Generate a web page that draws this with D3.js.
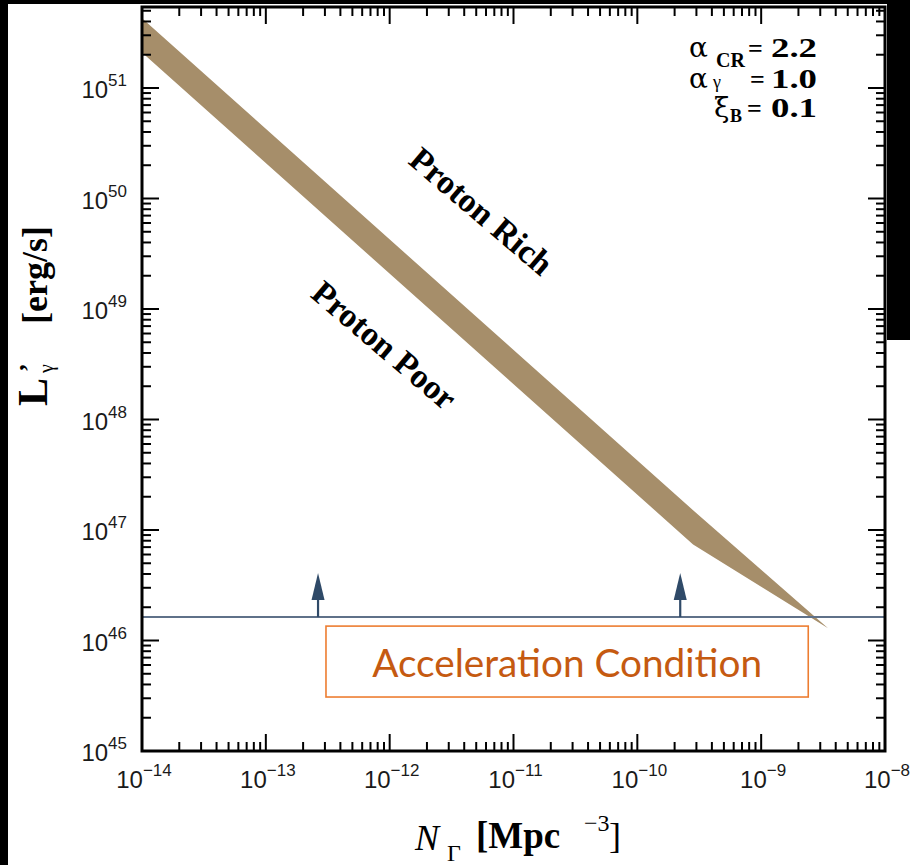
<!DOCTYPE html>
<html>
<head>
<meta charset="utf-8">
<script src="https://cdn.jsdelivr.net/npm/d3@7"></script>
<style>
  html, body { margin: 0; padding: 0; background: #ffffff; overflow: hidden; }
  svg { display: block; }
</style>
</head>
<body>
<svg id="chart" width="910" height="865"></svg>
<script>
// ---- data ----
const nGamma     = [1e-14, 2.82e-10, 3.47e-9];      // N_Gamma [Mpc^-3]
const lumUpper   = [4.27e51, 1.51e47, 1.29e46];     // upper edge of band [erg/s]
const lumLower   = [2.09e51, 7.4e46, 1.29e46];      // lower edge of band [erg/s]
const accelLum   = 1.63e46;                          // acceleration condition
const arrowN     = [2.64e-13, 2.22e-10];
const arrowTipL  = 4.08e46;
const xDecades   = [-14, -13, -12, -11, -10, -9, -8];
const yDecades   = [45, 46, 47, 48, 49, 50, 51];
const paramSym   = ["α", "α", "ξ"];
const paramSub   = ["CR", "γ", "B"];
const paramVal   = ["2.2", "1.0", "0.1"];
const boxN = [3.06e-13, 2.40e-9];
const boxL = [1.35e46, 3.08e45];

// ---- layout ----
const svg = d3.select("#chart");
const L = 142, R = 885, T = 7, B = 751;
const x = d3.scaleLog().domain([1e-14, 1e-8]).range([L, R]);
const y = d3.scaleLog().domain([1e45, Math.pow(10, 45 + (B - T) / 110.5)]).range([B, T]);

// black borders of the screenshot
svg.append("rect").attr("x", 0).attr("y", 0).attr("width", 8).attr("height", 865).attr("fill", "#000");
svg.append("rect").attr("x", 0).attr("y", 0).attr("width", 910).attr("height", 4).attr("fill", "#000");
svg.append("rect").attr("x", 887).attr("y", 0).attr("width", 23).attr("height", 340).attr("fill", "#000");

svg.append("defs").append("clipPath").attr("id", "clip")
  .append("rect").attr("x", L).attr("y", T).attr("width", R - L).attr("height", B - T);

const plot = svg.append("g").attr("clip-path", "url(#clip)");

// band
const bandData = nGamma.map((n, i) => ({ n, hi: lumUpper[i], lo: lumLower[i] }));
plot.append("path")
  .datum(bandData)
  .attr("fill", "#a68e6a")
  .attr("d", d3.area().x(d => x(d.n)).y0(d => y(d.lo)).y1(d => y(d.hi)));

// acceleration line
plot.append("line")
  .attr("x1", L).attr("x2", R).attr("y1", y(accelLum)).attr("y2", y(accelLum))
  .attr("stroke", "#5f7189").attr("stroke-width", 2);

// arrows
arrowN.forEach(n => {
  const ax = x(n), y0 = y(accelLum), yt = y(arrowTipL);
  plot.append("line").attr("x1", ax).attr("x2", ax).attr("y1", y0).attr("y2", yt + 20)
    .attr("stroke", "#2f4a68").attr("stroke-width", 2.2);
  plot.append("path")
    .attr("d", `M${ax},${yt} L${ax - 6.5},${yt + 27} L${ax + 6.5},${yt + 27} Z`)
    .attr("fill", "#2f4a68");
});

// orange box
const bx0 = x(boxN[0]), bx1 = x(boxN[1]), by0 = y(boxL[0]), by1 = y(boxL[1]);
svg.append("rect").attr("x", bx0).attr("y", by0).attr("width", bx1 - bx0).attr("height", by1 - by0)
  .attr("fill", "#ffffff").attr("stroke", "#ed7d31").attr("stroke-width", 1.6);
const accText = svg.append("text")
  .attr("x", (bx0 + bx1) / 2).attr("y", 677)
  .attr("text-anchor", "middle")
  .attr("font-family", "Lato, 'Open Sans', sans-serif")
  .attr("font-size", 36)
  .attr("fill", "#c55a11")
  .text("Acceleration Condition");
const tl = accText.node().getComputedTextLength();
accText.attr("font-size", 36 * 390 / tl);

// ---- axes ----
function logTicks(d0, d1) {
  const out = [];
  for (let d = d0; d < d1; d++) {
    for (let m = 1; m < 10; m++) out.push({ v: m * Math.pow(10, d), major: m === 1 });
  }
  out.push({ v: Math.pow(10, d1), major: true });
  return out;
}
const xt = logTicks(-14, -8);
const yt = logTicks(45, 51).concat([2e51, 3e51, 4e51, 5e51].map(v => ({ v, major: false })));
const MAJ = 17, MIN = 9;

const axG = svg.append("g").attr("stroke", "#000").attr("stroke-width", 2);
xt.forEach(t => {
  const px = x(t.v), len = t.major ? MAJ : MIN;
  if (px < L - 0.5 || px > R + 0.5) return;
  axG.append("line").attr("x1", px).attr("x2", px).attr("y1", B).attr("y2", B - len);
  axG.append("line").attr("x1", px).attr("x2", px).attr("y1", T).attr("y2", T + len);
});
yt.forEach(t => {
  const py = y(t.v), len = t.major ? MAJ : MIN;
  if (py < T - 0.5 || py > B + 0.5) return;
  axG.append("line").attr("y1", py).attr("y2", py).attr("x1", L).attr("x2", L + len);
  axG.append("line").attr("y1", py).attr("y2", py).attr("x1", R).attr("x2", R - len);
});
svg.append("rect").attr("x", L).attr("y", T).attr("width", R - L).attr("height", B - T)
  .attr("fill", "none").attr("stroke", "#000").attr("stroke-width", 3);

// tick labels
const sans = "'Liberation Sans', Arial, Helvetica, sans-serif";
xDecades.forEach(d => {
  const t = svg.append("text").attr("x", x(Math.pow(10, d)) + 2).attr("y", 788)
    .attr("text-anchor", "middle").attr("font-family", sans).attr("font-size", 24).attr("fill", "#1a1a1a");
  t.append("tspan").text("10");
  t.append("tspan").attr("dy", -12).attr("font-size", 17).text("−" + Math.abs(d));
});
yDecades.forEach(d => {
  const t = svg.append("text").attr("x", 127).attr("y", y(Math.pow(10, d)) + 10)
    .attr("text-anchor", "end").attr("font-family", sans).attr("font-size", 24).attr("fill", "#1a1a1a");
  t.append("tspan").text("10");
  t.append("tspan").attr("dy", -12).attr("font-size", 17).text(String(d));
});

// ---- titles ----
const serif = "'Liberation Serif', 'Times New Roman', serif";
const yTitle = svg.append("g").attr("transform", "translate(47,406) rotate(-90)");
yTitle.append("text").attr("x", 0).attr("y", 0).attr("font-family", serif).attr("font-weight", "bold")
  .attr("font-size", 42).attr("fill", "#000").text("L");
yTitle.append("text").attr("x", 34).attr("y", -10).attr("font-family", serif).attr("font-weight", "bold")
  .attr("font-size", 26).attr("fill", "#000").text("’");
yTitle.append("text").attr("x", 33).attr("y", 6).attr("font-family", serif)
  .attr("font-size", 20).attr("fill", "#000").text("γ");
yTitle.append("text").attr("x", 82).attr("y", 0).attr("font-family", serif).attr("font-weight", "bold")
  .attr("font-size", 36).attr("fill", "#000").text("[erg/s]");

svg.append("text").attr("x", 415).attr("y", 850).attr("font-family", serif).attr("font-style", "italic")
  .attr("font-size", 36).attr("fill", "#000").text("N");
svg.append("text").attr("x", 447).attr("y", 861).attr("font-family", serif)
  .attr("font-size", 24).attr("fill", "#000").text("Γ");
svg.append("text").attr("x", 476).attr("y", 848).attr("font-family", serif).attr("font-weight", "bold")
  .attr("font-size", 37).attr("fill", "#000").text("[Mpc");
svg.append("text").attr("x", 584).attr("y", 831).attr("font-family", serif)
  .attr("font-size", 24).attr("fill", "#000").text("−3");
svg.append("text").attr("x", 609).attr("y", 848).attr("font-family", serif)
  .attr("font-size", 36).attr("fill", "#000").text("]");

// parameter annotations
const rowBase = [57, 88, 117];
const symX    = [689, 689, 714];
const subX    = [716, 713, 730];
const subBase = [67, 88, 122];
const subSize = [20, 18, 18];
const subWt   = ["bold", "normal", "bold"];
const eqX     = [748, 750, 747];
paramSym.forEach((s, i) => {
  svg.append("text").attr("x", symX[i]).attr("y", rowBase[i]).attr("font-family", "'DejaVu Serif', serif")
    .attr("font-size", 28).attr("fill", "#000").text(s);
  svg.append("text").attr("x", subX[i]).attr("y", subBase[i]).attr("font-family", serif)
    .attr("font-weight", subWt[i]).attr("font-size", subSize[i]).attr("fill", "#000").text(paramSub[i]);
  svg.append("text").attr("x", eqX[i]).attr("y", rowBase[i]).attr("font-family", serif)
    .attr("font-weight", "bold").attr("font-size", 26).attr("fill", "#000").text("=");
  svg.append("text").attr("x", 771).attr("y", rowBase[i]).attr("font-family", serif)
    .attr("font-weight", "bold").attr("font-size", 27).attr("fill", "#000")
    .attr("textLength", 46).attr("lengthAdjust", "spacingAndGlyphs").text(paramVal[i]);
});

// region labels
svg.append("text").attr("transform", "translate(479,214) rotate(40.5)")
  .attr("text-anchor", "middle").attr("dominant-baseline", "middle")
  .attr("font-family", serif).attr("font-weight", "bold").attr("font-size", 34).attr("fill", "#000")
  .text("Proton Rich");
svg.append("text").attr("transform", "translate(382,348) rotate(40.5)")
  .attr("text-anchor", "middle").attr("dominant-baseline", "middle")
  .attr("font-family", serif).attr("font-weight", "bold").attr("font-size", 34).attr("fill", "#000")
  .text("Proton Poor");
</script>
</body>
</html>
